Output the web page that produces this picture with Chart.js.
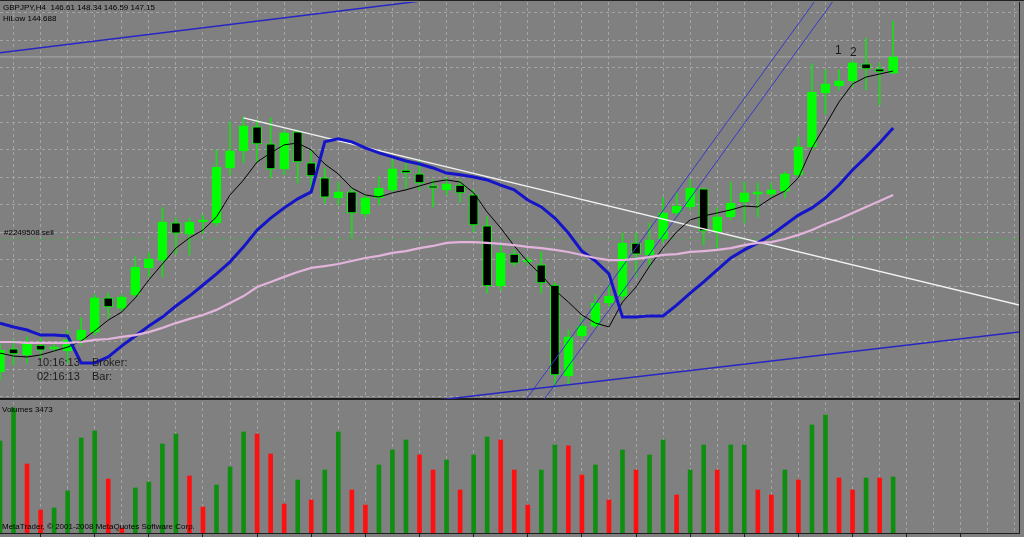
<!DOCTYPE html>
<html>
<head>
<meta charset="utf-8">
<script src="https://cdn.jsdelivr.net/npm/chart.js@4.4.1/dist/chart.umd.min.js"></script>
<style>
  html, body { margin: 0; padding: 0; background: #808080; }
  #wrap { position: relative; width: 1024px; height: 537px; background: #808080; overflow: hidden;
          font-family: "Liberation Sans", Arial, sans-serif; color: #000; }
  canvas { position: absolute; left: 0; }
  .lbl { position: absolute; white-space: nowrap; font-size: 8px; line-height: 10px; color: #000; }
  .big { position: absolute; white-space: nowrap; font-size: 11px; line-height: 13px; color: #1c1c1c; }
  .line { position: absolute; left: 0; width: 1024px; height: 1px; background: #222; }
</style>
</head>
<body>
<div id="wrap">
  <div class="line" style="top:0"></div>
  <canvas id="priceChart" width="1024" height="400" style="top:0"></canvas>
  <canvas id="volChart" width="1024" height="136" style="top:401px"></canvas>

  <div class="lbl" style="left:3px;top:3px">GBPJPY,H4&nbsp; 146.61 148.34 146.59 147.15</div>
  <div class="lbl" style="left:3px;top:14px">HiLow 144.688</div>
  <div class="lbl" style="left:4px;top:228px">#2249508 sell</div>
  <div class="big" style="left:37px;top:356px">10:16:13</div>
  <div class="big" style="left:92px;top:356px">Broker:</div>
  <div class="big" style="left:37px;top:370px">02:16:13</div>
  <div class="big" style="left:92px;top:370px">Bar:</div>
  <div class="big" style="left:835px;top:44px;font-size:12px">1</div>
  <div class="big" style="left:850px;top:46px;font-size:12px">2</div>
  <div class="lbl" style="left:2px;top:405px">Volumes 3473</div>
  <div class="lbl" style="left:2px;top:522px">MetaTrader, © 2001-2008 MetaQuotes Software Corp.</div>
</div>
<script>
// GBPJPY H4, one entry per bar (bar 0 = leftmost, partly cut off)
const opens  = [136.65, 137.42, 137.22, 137.55, 137.42, 137.35, 137.72, 137.98, 139.12, 138.78,
                139.22, 140.12, 140.38, 141.62, 141.25, 141.65, 141.62, 143.45, 144.02, 144.82,
                144.25, 143.42, 144.65, 143.62, 143.12, 142.45, 142.65, 141.92, 142.45, 142.72,
                143.38, 143.25, 142.85, 142.72, 142.88, 142.55, 141.52, 139.52, 140.58, 140.32,
                140.22, 139.55, 136.52, 137.85, 138.18, 138.95, 139.18, 140.95, 140.55, 141.08,
                141.95, 142.15, 142.75, 141.32, 141.82, 142.32, 142.58, 142.58, 142.68, 143.22,
                144.15, 145.95, 146.18, 146.35, 146.92, 146.75, 146.61];
const highs  = [137.62, 137.72, 137.82, 137.78, 137.62, 138.05, 138.45, 139.22, 139.28, 139.22,
                140.48, 140.62, 142.12, 141.78, 141.78, 141.88, 144.05, 144.98, 145.15, 145.05,
                145.12, 144.72, 144.72, 144.05, 143.45, 142.98, 142.78, 142.55, 143.15, 143.72,
                143.65, 143.72, 143.05, 143.12, 143.05, 142.72, 141.82, 140.88, 140.72, 140.48,
                140.65, 139.62, 138.05, 138.48, 139.22, 139.55, 141.28, 141.28, 141.62, 142.45,
                142.62, 143.08, 142.78, 142.12, 142.98, 142.98, 142.95, 142.95, 143.32, 144.48,
                146.92, 146.72, 146.72, 147.02, 147.78, 146.95, 148.34];
const lows   = [136.38, 136.88, 136.95, 137.12, 137.32, 136.95, 137.55, 137.88, 138.45, 138.65,
                139.12, 139.82, 139.82, 140.58, 140.55, 141.28, 141.52, 143.22, 143.62, 143.65,
                143.12, 143.22, 142.95, 142.78, 142.28, 142.22, 141.12, 141.82, 142.22, 142.65,
                142.78, 142.72, 142.15, 142.55, 142.32, 141.32, 139.28, 139.38, 140.18, 140.22,
                139.28, 136.15, 136.22, 137.72, 138.12, 138.82, 139.05, 139.82, 140.15, 140.95,
                141.88, 142.05, 140.88, 140.78, 141.72, 141.62, 141.82, 142.48, 142.45, 143.12,
                144.05, 145.25, 146.05, 146.15, 146.05, 145.55, 146.59];
const closes = [137.38, 137.25, 137.65, 137.38, 137.48, 137.72, 138.05, 139.12, 138.82, 139.15,
                140.15, 140.42, 141.65, 141.28, 141.65, 141.72, 143.48, 144.02, 144.85, 144.25,
                143.42, 144.62, 143.65, 143.18, 142.48, 142.65, 141.95, 142.45, 142.78, 143.42,
                143.28, 142.95, 142.78, 142.92, 142.62, 141.55, 139.52, 140.62, 140.28, 140.38,
                139.62, 136.55, 137.82, 138.18, 138.95, 139.18, 140.95, 140.58, 141.05, 141.95,
                142.18, 142.78, 141.35, 141.82, 142.28, 142.62, 142.65, 142.72, 143.25, 144.15,
                145.98, 146.25, 146.35, 146.95, 146.75, 146.65, 147.15];

// moving averages (black = fast, blue = stepped, pink = slow)
const maFast = [137.28, 137.18, 137.15, 137.22, 137.35, 137.48, 137.68, 138.02, 138.38, 138.65,
                139.12, 139.72, 140.25, 140.78, 141.12, 141.38, 141.82, 142.55, 143.05, 143.65,
                143.95, 144.22, 144.28, 144.05, 143.58, 143.25, 142.78, 142.55, 142.48, 142.62,
                142.72, 142.85, 142.98, 143.05, 142.98, 142.62, 141.98, 141.45, 140.85, 140.32,
                139.88, 139.38, 138.98, 138.55, 138.28, 138.15, 138.98, 139.48, 140.18, 140.78,
                141.32, 141.72, 141.85, 141.95, 142.05, 142.18, 142.15, 142.45, 142.68, 143.12,
                144.12, 144.88, 145.65, 146.25, 146.48, 146.58, 146.68];
const maMid  = [138.28, 138.15, 138.05, 137.88, 137.88, 137.85, 136.95, 136.95, 137.15, 137.52,
                137.85, 138.18, 138.48, 138.85, 139.18, 139.55, 139.92, 140.32, 140.82, 141.38,
                141.78, 142.12, 142.42, 142.65, 144.32, 144.42, 144.32, 144.12, 143.95, 143.82,
                143.68, 143.58, 143.45, 143.28, 143.22, 143.15, 143.05, 142.88, 142.72, 142.38,
                142.15, 141.78, 141.28, 140.68, 140.35, 139.92, 138.48, 138.48, 138.52, 138.52,
                138.88, 139.28, 139.65, 140.05, 140.45, 140.72, 140.95, 141.22, 141.55, 141.88,
                142.12, 142.45, 142.88, 143.38, 143.82, 144.28, 144.78];
const maSlow = [137.65, 137.65, 137.62, 137.62, 137.62, 137.62, 137.65, 137.72, 137.75, 137.82,
                137.88, 137.98, 138.12, 138.28, 138.42, 138.55, 138.72, 138.95, 139.18, 139.48,
                139.65, 139.82, 139.98, 140.12, 140.18, 140.25, 140.35, 140.45, 140.52, 140.62,
                140.68, 140.78, 140.85, 140.95, 140.98, 140.98, 140.95, 140.92, 140.88, 140.82,
                140.78, 140.72, 140.65, 140.55, 140.45, 140.38, 140.38, 140.42, 140.48, 140.55,
                140.58, 140.65, 140.68, 140.72, 140.78, 140.88, 140.95, 140.98, 141.08, 141.22,
                141.38, 141.58, 141.75, 141.95, 142.15, 142.35, 142.55];

const volumes = [5704, 7750, 4278, 1426, 1550, 2604, 5890, 6324, 3348, 310,
                 2790, 3162, 5518, 6138, 3534, 1612, 2976, 4092, 6262, 6138,
                 4898, 1798, 3286, 2046, 3906, 6262, 2666, 1736, 4216, 5146,
                 5766, 4836, 3906, 4526, 2666, 4836, 5952, 5766, 3906, 1736,
                 3906, 5456, 5400, 3596, 4216, 2046, 5146, 3906, 4836, 5766,
                 2356, 3906, 5456, 3906, 5456, 5457, 2666, 2356, 3906, 3286,
                 6696, 7316, 3410, 2666, 3410, 3409, 3473];

// hand-drawn objects, [bar, price] end points
const trendWhite   = [[18, 145.12], [80, 138.37]];
const trendTop     = [[-1, 147.23], [37, 149.34]];
const trendBottom  = [[30, 135.59], [80, 138.23]];
const channelLeft  = [[38.5, 135.50], [61, 149.50]];
const channelRight = [[39.8, 135.48], [62.4, 149.53]];
const sellLevel = 141.08;
const bidLevel = 147.15;

// visible window and grid
const xMin = 0, xMax = 75.3;
const yMin = 135.75, yMax = 148.98;
const yGridTop = 148.617, yGridStep = 0.913;
const volMax = 8122;

const bullColor = "#00ff00";
const bearColor = "#000000";
const gridColor = "#a4a4a4";
const frameColor = "#1e1e1e";

const pts = arr => arr.map(p => ({ x: p[0], y: p[1] }));
const series = arr => arr.map((v, i) => ({ x: i, y: v }));

function evenTicks(scale) {
    const t = [];
    for (let v = 0; v <= 74; v += 2) t.push({ value: v });
    scale.ticks = t;
}

function lineSet(data, color, width, extra) {
    return Object.assign({
        type: "line",
        data: data,
        borderColor: color,
        borderWidth: width,
        pointRadius: 0,
        tension: 0,
        fill: false,
        order: 0
    }, extra || {});
}

const priceChart = new Chart(document.getElementById("priceChart"), {
    type: "bar",
    data: {
        datasets: [
            {
                data: lows.map((l, i) => ({ x: i, y: [l, highs[i]] })),
                backgroundColor: "#14e014",
                barThickness: 1,
                grouped: false,
                order: 2
            },
            {
                data: opens.map((o, i) => ({ x: i, y: [Math.min(o, closes[i]), Math.max(o, closes[i])] })),
                backgroundColor: opens.map((o, i) => closes[i] >= o ? bullColor : bearColor),
                borderColor: bullColor,
                borderWidth: 1,
                borderSkipped: false,
                barThickness: 9,
                minBarLength: 2,
                grouped: false,
                order: 1
            },
            lineSet(series(maSlow), "#e2b4dc", 2.2),
            lineSet(series(maMid), "#1414c8", 3),
            lineSet(series(maFast), "#000000", 1),
            lineSet(pts(trendWhite), "#f2f2f2", 1.3),
            lineSet(pts(trendTop), "#2626c4", 1.5),
            lineSet(pts(trendBottom), "#2626c4", 1.5),
            lineSet(pts(channelLeft), "#3838c8", 1),
            lineSet(pts(channelRight), "#3838c8", 1),
            lineSet([{ x: -1, y: sellLevel }, { x: 80, y: sellLevel }], "#4fa04f", 1, { borderDash: [5, 4], order: 3 }),
            lineSet([{ x: -1, y: bidLevel }, { x: 80, y: bidLevel }], "#a9a9a9", 1, { order: 3 })
        ]
    },
    options: {
        responsive: false,
        animation: false,
        devicePixelRatio: 1,
        layout: { padding: { left: 0, top: 2, right: 5, bottom: 1 } },
        plugins: { legend: { display: false }, tooltip: { enabled: false } },
        scales: {
            x: {
                type: "linear",
                min: xMin,
                max: xMax,
                offset: false,
                afterBuildTicks: evenTicks,
                ticks: { display: false },
                grid: { color: gridColor, drawTicks: false },
                border: { display: true, color: frameColor, width: 2, dash: [3, 3] }
            },
            y: {
                position: "right",
                min: yMin,
                max: yMax,
                afterBuildTicks: scale => {
                    const t = [];
                    for (let v = yGridTop; v > scale.min; v -= yGridStep) t.push({ value: v });
                    scale.ticks = t;
                },
                ticks: { display: false },
                grid: { color: gridColor, drawTicks: false },
                border: { display: true, color: frameColor, dash: [3, 3] }
            }
        }
    }
});

const volChart = new Chart(document.getElementById("volChart"), {
    type: "bar",
    data: {
        datasets: [{
            data: series(volumes),
            backgroundColor: volumes.map((v, i) => (i === 0 || v >= volumes[i - 1]) ? "#0f8f0f" : "#ff1010"),
            barThickness: 4,
            grouped: false
        }]
    },
    options: {
        responsive: false,
        animation: false,
        devicePixelRatio: 1,
        layout: { padding: { left: 0, top: 1, right: 5, bottom: 0 } },
        plugins: { legend: { display: false }, tooltip: { enabled: false } },
        scales: {
            x: {
                type: "linear",
                min: xMin,
                max: xMax,
                offset: false,
                afterBuildTicks: evenTicks,
                ticks: { display: false },
                grid: {
                    color: gridColor,
                    drawTicks: true,
                    tickLength: 4,
                    tickColor: c => (c.tick && c.tick.value % 4 === 0) ? frameColor : "rgba(0,0,0,0)"
                },
                border: { display: true, color: frameColor, dash: [3, 3] }
            },
            y: {
                position: "right",
                min: 0,
                max: volMax,
                ticks: { display: false },
                grid: { display: false, drawTicks: false },
                border: { display: true, color: frameColor }
            }
        }
    }
});
</script>
</body>
</html>
